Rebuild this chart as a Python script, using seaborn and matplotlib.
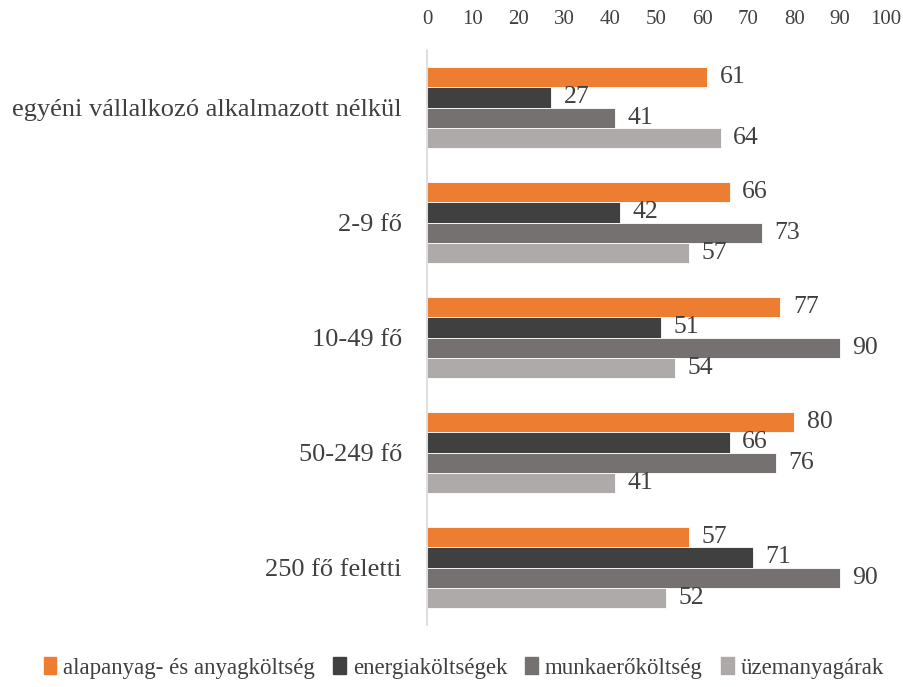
import pandas as pd
import matplotlib.pyplot as plt
import seaborn as sns

# --- DATA ---
categories = ['egyéni vállalkozó alkalmazott nélkül', '2-9 fő', '10-49 fő', '50-249 fő', '250 fő feletti']
series = ['alapanyag- és anyagköltség', 'energiaköltségek', 'munkaerőköltség', 'üzemanyagárak']
alapanyag = [61, 66, 77, 80, 57]
energia = [27, 42, 51, 66, 71]
munkaero = [41, 73, 90, 76, 90]
uzemanyag = [64, 57, 54, 41, 52]
x_ticks = [0, 10, 20, 30, 40, 50, 60, 70, 80, 90, 100]

colors = ['#ED7D31', '#404040', '#767171', '#AEAAAA']

rows = []
for s, vals in zip(series, [alapanyag, energia, munkaero, uzemanyag]):
    for c, v in zip(categories, vals):
        rows.append({'kategoria': c, 'tipus': s, 'ertek': v})
df = pd.DataFrame(rows)

# --- VISUALIZATION ---
sns.set_style('white')
plt.rcParams['font.family'] = ['Liberation Serif', 'DejaVu Serif']
text_color = '#404040'

fig = plt.figure(figsize=(9.04, 6.87), dpi=100)
ax = fig.add_axes([0.4723, 0.0902, 0.5077, 0.8370])

sns.barplot(data=df, x='ertek', y='kategoria', hue='tipus', order=categories,
            hue_order=series, palette=colors, orient='h', width=0.7,
            saturation=1, ax=ax, legend=False, linewidth=0.6, edgecolor='white')

for cont in ax.containers:
    ax.bar_label(cont, padding=9, fontsize=18.5, color=text_color)

ax.set_xlim(0, 100)
ax.set_xticks(x_ticks)
ax.xaxis.tick_top()
ax.tick_params(axis='x', length=0, labelsize=15, labelcolor=text_color, pad=15)
ax.tick_params(axis='y', length=0, labelsize=19, labelcolor=text_color, pad=18)
ax.set_xlabel('')
ax.set_ylabel('')
for side in ['top', 'right', 'bottom']:
    ax.spines[side].set_visible(False)
ax.spines['left'].set_color('#D9D9D9')
ax.spines['left'].set_linewidth(1.2)

handles = [plt.Rectangle((0, 0), 1, 1, color=c) for c in colors]
fig.legend(handles, series, loc='center', bbox_to_anchor=(0.513, 0.028), ncol=4,
           frameon=False, fontsize=16.5, handlelength=0.55, handleheight=0.8,
           handletextpad=0.3, columnspacing=0.8, labelcolor=text_color)

fig.savefig('out.png', dpi=100)
